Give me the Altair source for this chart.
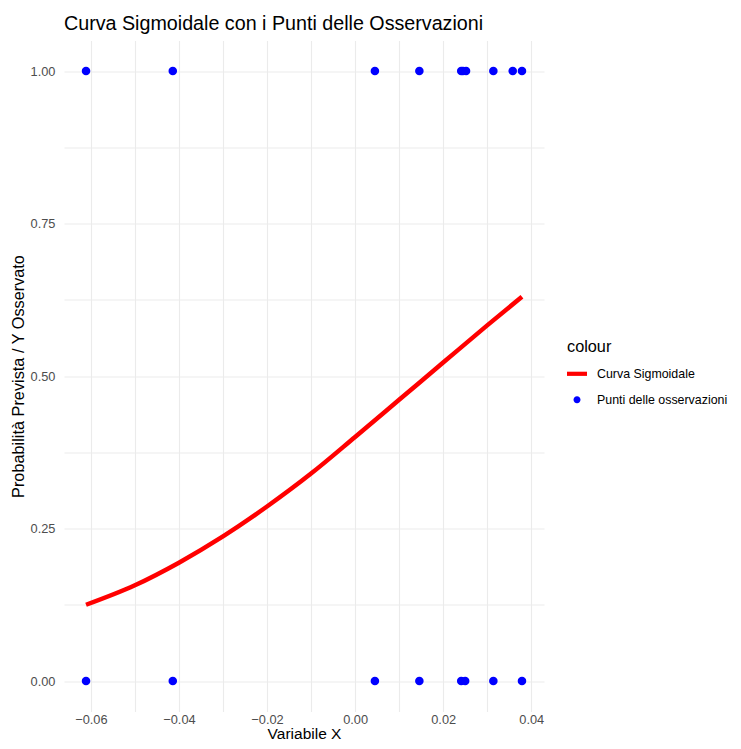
import altair as alt
import pandas as pd

obs_x_y1 = [-0.0611, -0.0414, 0.0045, 0.0146, 0.0241, 0.0245, 0.0252, 0.0314, 0.0358, 0.0379]
obs_x_y0 = [-0.0611, -0.0414, 0.0045, 0.0146, 0.0241, 0.0250, 0.0314, 0.0379]

# Sigmoid curve
curve_x = [-0.0611, -0.05, -0.04, -0.03, -0.02, -0.01, 0.0, 0.01, 0.02, 0.03, 0.0379]
curve_y = [0.125, 0.157, 0.194, 0.237, 0.286, 0.340, 0.400, 0.461, 0.522, 0.583, 0.630]

series = ["Curva Sigmoidale", "Punti delle osservazioni"]
colors = ["#FF0000", "#0000FF"]

x_ticks = [-0.06, -0.05, -0.04, -0.03, -0.02, -0.01, 0.0, 0.01, 0.02, 0.03, 0.04]
y_ticks = [0.0, 0.125, 0.25, 0.375, 0.5, 0.625, 0.75, 0.875, 1.0]

obs = pd.DataFrame({
    "x": obs_x_y1 + obs_x_y0,
    "y": [1.0] * len(obs_x_y1) + [0.0] * len(obs_x_y0),
    "serie": series[1],
})
curve = pd.DataFrame({"x": curve_x, "y": curve_y, "serie": series[0]})

FONT = "Liberation Sans"

line_path = "M-1,-0.21L1,-0.21L1,0.21L-1,0.21Z"
dot_path = "M0,-0.35A0.35,0.35,0,1,1,0,0.35A0.35,0.35,0,1,1,0,-0.35Z"

x_enc = alt.X(
    "x:Q",
    scale=alt.Scale(domain=[-0.0661, 0.0429], nice=False, zero=False),
    axis=alt.Axis(
        title="Variabile X",
        values=x_ticks,
        labelExpr="(abs(round(datum.value*100)) % 2 == 0) ? format(datum.value, '.2f') : ''",
        ticks=False, tickSize=0, domain=False,
        labelPadding=2, titlePadding=0, titleFontSize=15.5,
    ),
)
y_enc = alt.Y(
    "y:Q",
    scale=alt.Scale(domain=[-0.05, 1.05], nice=False, zero=False),
    axis=alt.Axis(
        title="Probabilità Prevista / Y Osservato",
        values=y_ticks,
        labelExpr="((datum.value*4) % 1 == 0) ? format(datum.value, '.2f') : ''",
        ticks=False, tickSize=0, domain=False,
        labelPadding=9, titlePadding=4,
    ),
)

color_scale = alt.Scale(domain=series, range=colors)
shape_scale = alt.Scale(domain=series, range=[line_path, dot_path])

line = alt.Chart(curve).mark_line(strokeWidth=4.5, interpolate="monotone").encode(
    x=x_enc, y=y_enc,
    color=alt.Color("serie:N", scale=color_scale, title="colour"),
)
points = alt.Chart(obs).mark_point(filled=True, size=600, opacity=1).encode(
    x=x_enc, y=y_enc,
    color=alt.Color("serie:N", scale=color_scale, title="colour"),
    shape=alt.Shape("serie:N", scale=shape_scale, title="colour"),
)

chart = alt.layer(line, points).properties(
    width=480,
    height=671,
    autosize=alt.AutoSizeParams(type="none"),
    padding={"left": 56, "top": 32.5, "right": 189, "bottom": 29.5},
    title=alt.TitleParams(
        "Curva Sigmoidale con i Punti delle Osservazioni",
        anchor="start", frame="group", fontSize=19.7, font=FONT,
        fontWeight="normal", color="black", offset=7,
    ),
).configure_view(stroke=None).configure_axis(
    gridColor="#EBEBEB", gridWidth=1.1,
    labelFont=FONT, labelFontSize=12.8, labelColor="#4D4D4D",
    titleFont=FONT, titleFontSize=16.3, titleColor="black", titleFontWeight="normal",
).configure_legend(
    orient="none", legendX=503, legendY=298,
    titleFont=FONT, titleFontSize=16.3, titleColor="black", titleFontWeight="normal",
    labelFont=FONT, labelFontSize=12.4, labelColor="black",
    symbolSize=400, symbolStrokeWidth=0, labelOffset=10, rowPadding=9,
    titlePadding=9, padding=0,
)

chart.save("out.html", embed_options={"renderer": "svg", "actions": False})
